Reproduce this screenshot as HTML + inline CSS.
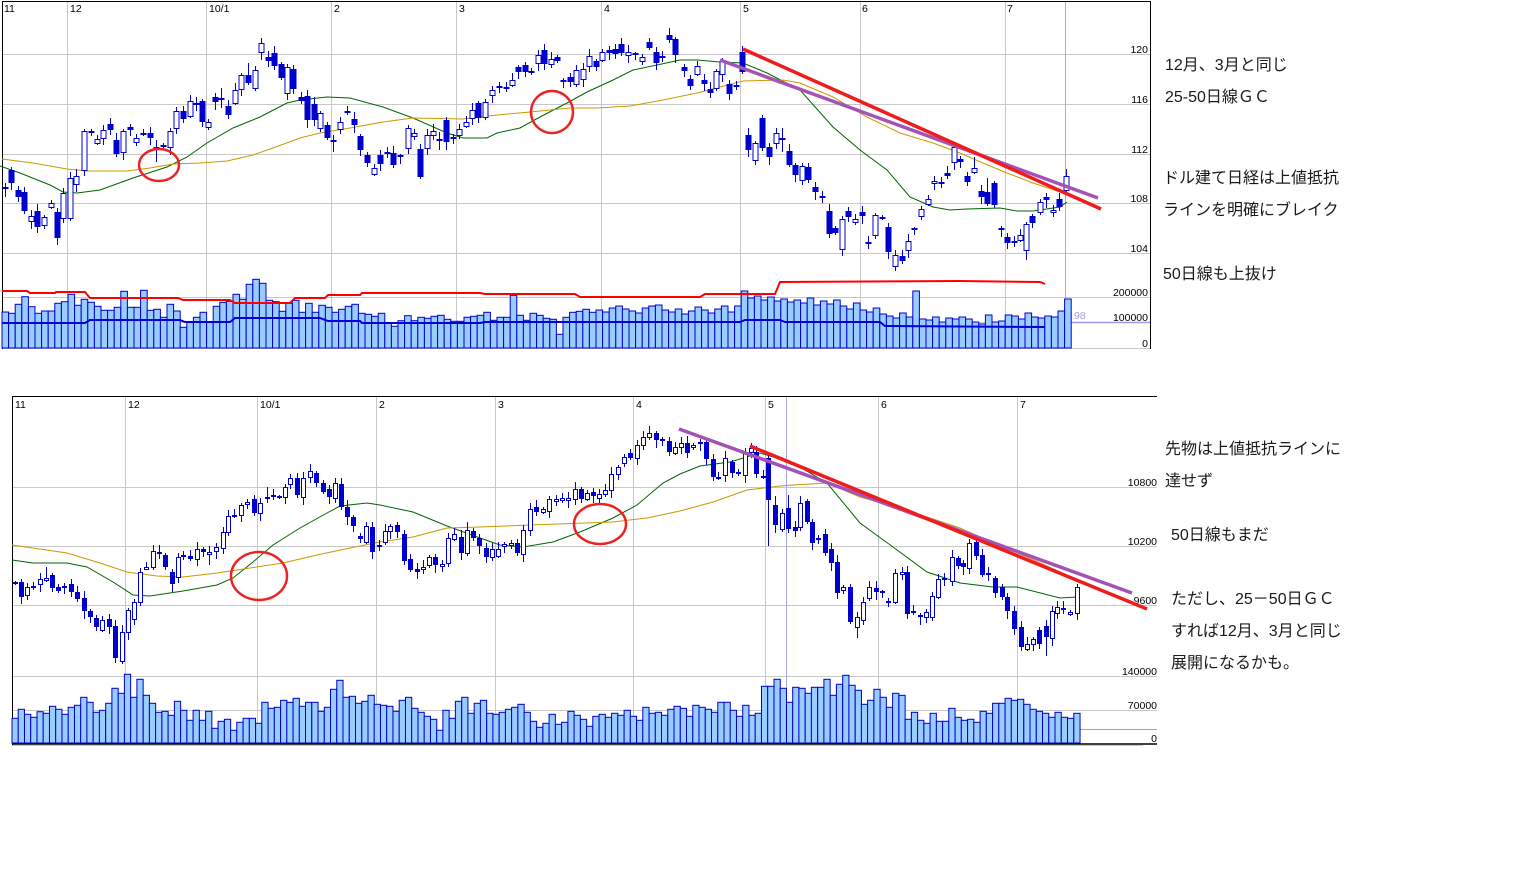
<!DOCTYPE html>
<html><head><meta charset="utf-8">
<style>
html,body{margin:0;padding:0;background:#fff;}
body{width:1514px;height:886px;overflow:hidden;}
svg{display:block;}
.ax{font-family:"Liberation Sans",sans-serif;font-size:10.5px;fill:#000;}
.jp{font-family:"Liberation Sans","Noto Sans CJK JP",sans-serif;font-size:16px;fill:#1a1a1a;}
</style></head>
<body>
<svg id="s" xmlns="http://www.w3.org/2000/svg" width="1514" height="886" viewBox="0 0 1514 886">
<rect x="0" y="0" width="1514" height="886" fill="#fff"/>
<!-- TOP CHART GRID -->
<g stroke="#c8c8c8" stroke-width="1" fill="none">
<line x1="2" y1="54.5" x2="1150" y2="54.5"/>
<line x1="2" y1="104.5" x2="1150" y2="104.5"/>
<line x1="2" y1="154.5" x2="1150" y2="154.5"/>
<line x1="2" y1="203.5" x2="1150" y2="203.5"/>
<line x1="2" y1="253.5" x2="1150" y2="253.5"/>
<line x1="2" y1="297.5" x2="1150" y2="297.5"/>
<line x1="2" y1="322.5" x2="1071" y2="322.5"/>
<line x1="2" y1="348.5" x2="1150" y2="348.5"/>
<line x1="67.5" y1="1" x2="67.5" y2="348"/>
<line x1="206.5" y1="1" x2="206.5" y2="348"/>
<line x1="331.5" y1="1" x2="331.5" y2="348"/>
<line x1="456.5" y1="1" x2="456.5" y2="348"/>
<line x1="601.5" y1="1" x2="601.5" y2="348"/>
<line x1="740.5" y1="1" x2="740.5" y2="348"/>
<line x1="860.5" y1="1" x2="860.5" y2="348"/>
<line x1="1005.5" y1="1" x2="1005.5" y2="348"/>
</g>
<line x1="1065.5" y1="1" x2="1065.5" y2="300" stroke="#a8a8e8" stroke-width="1"/>
<line x1="1071" y1="322.5" x2="1150" y2="322.5" stroke="#9d9de0" stroke-width="1.5"/>
<g stroke="#000" stroke-width="1">
<line x1="2" y1="1.5" x2="1151" y2="1.5"/>
<line x1="2.5" y1="1" x2="2.5" y2="349"/>
<line x1="1150.5" y1="1" x2="1150.5" y2="349"/>
</g>
<!-- top labels -->
<g class="ax">
<text x="4" y="12">11</text>
<text x="70" y="12">12</text>
<text x="209" y="12">10/1</text>
<text x="334" y="12">2</text>
<text x="459" y="12">3</text>
<text x="604" y="12">4</text>
<text x="743" y="12">5</text>
<text x="862" y="12">6</text>
<text x="1007" y="12">7</text>
<g text-anchor="end">
<text x="1148" y="53">120</text>
<text x="1148" y="103">116</text>
<text x="1148" y="153">112</text>
<text x="1148" y="202">108</text>
<text x="1148" y="252">104</text>
<text x="1148" y="296">200000</text>
<text x="1148" y="321">100000</text>
<text x="1148" y="347">0</text>
</g>
</g>
<text x="1074" y="319" class="ax" style="fill:#a0a0e0">98</text>

<!-- BOTTOM CHART GRID -->
<g stroke="#c8c8c8" stroke-width="1" fill="none">
<line x1="12" y1="487.5" x2="1157" y2="487.5"/>
<line x1="12" y1="546.5" x2="1157" y2="546.5"/>
<line x1="12" y1="605.5" x2="1157" y2="605.5"/>
<line x1="12" y1="676.5" x2="1157" y2="676.5"/>
<line x1="12" y1="710.5" x2="1157" y2="710.5"/>
<line x1="125.5" y1="396" x2="125.5" y2="743"/>
<line x1="257.5" y1="396" x2="257.5" y2="743"/>
<line x1="376.5" y1="396" x2="376.5" y2="743"/>
<line x1="495.5" y1="396" x2="495.5" y2="743"/>
<line x1="633.5" y1="396" x2="633.5" y2="743"/>
<line x1="765.5" y1="396" x2="765.5" y2="743"/>
<line x1="878.5" y1="396" x2="878.5" y2="743"/>
<line x1="1017.5" y1="396" x2="1017.5" y2="743"/>
<line x1="12" y1="745.5" x2="1143" y2="745.5"/>
</g>
<line x1="786.5" y1="396" x2="786.5" y2="743" stroke="#a8a8e8" stroke-width="1"/>
<line x1="1080" y1="729.5" x2="1157" y2="729.5" stroke="#9d9de0" stroke-width="1"/>
<g stroke="#000" stroke-width="1">
<line x1="12" y1="396.5" x2="1157" y2="396.5"/>
<line x1="12.5" y1="396" x2="12.5" y2="745"/>
<line x1="12" y1="744" x2="1157" y2="744" stroke-width="1.5"/>
</g>
<g class="ax">
<text x="15" y="408">11</text>
<text x="128" y="408">12</text>
<text x="260" y="408">10/1</text>
<text x="379" y="408">2</text>
<text x="498" y="408">3</text>
<text x="636" y="408">4</text>
<text x="768" y="408">5</text>
<text x="881" y="408">6</text>
<text x="1020" y="408">7</text>
<g text-anchor="end">
<text x="1157" y="486">10800</text>
<text x="1157" y="545">10200</text>
<text x="1157" y="604">9600</text>
<text x="1157" y="675">140000</text>
<text x="1157" y="709">70000</text>
<text x="1157" y="742">0</text>
</g>
</g>

<g id="vol"></g>
<g id="ma" fill="none" stroke-width="1">
<polyline id="tg" stroke="#006600" points="0,166 20,173 50,185 63,192 77,193 100,190 133,178 167,167 187,157 207,143 233,128 260,117 287,103 300,100 327,97 350,98 383,107 413,118 447,133 463,138 487,138 497,133 520,128 540,117 567,103 587,92 613,80 633,70 657,65 680,60 697,60 720,62 743,63 767,73 800,90 833,127 860,150 887,170 910,197 933,207 950,210 967,209 1000,208 1017,211 1033,211 1060,207 1067,202"/>
<polyline stroke="#cc9900" points="2,159 33,163 67,169 87,171 127,171 150,168 173,164 200,163 227,161 253,155 273,148 300,138 320,133 350,128 383,122 413,118 463,119 497,115 530,112 570,108 597,108 630,106 663,100 697,93 720,87 743,81 783,80 800,83 833,97 867,117 900,133 933,143 960,153 983,163 1007,173 1033,183 1060,192 1067,195"/>
<polyline stroke="#006600" points="12,560 33,563 67,563 87,567 113,582 133,595 150,596 183,591 217,585 233,578 253,562 273,545 300,528 327,513 340,506 367,503 380,505 413,512 447,526 480,538 500,545 523,547 553,542 580,532 613,518 637,505 663,483 680,474 700,466 730,462 760,453 793,463 827,483 860,523 893,547 927,572 960,583 993,587 1017,587 1060,598 1077,597"/>
<polyline stroke="#cc9900" points="12,545 33,548 67,553 100,563 127,572 157,576 183,577 217,573 250,568 283,563 317,555 350,548 380,542 413,537 447,528 480,527 530,525 613,522 647,518 680,511 713,502 747,490 780,486 793,485 827,483 860,497 893,506 927,517 960,528 993,543 1027,557 1060,572 1077,582"/>
</g>
<g id="cd"></g>
<!-- trend lines -->
<g fill="none" stroke-linecap="butt">
<line x1="720" y1="60" x2="1098" y2="198" stroke="#a552b5" stroke-width="3.5"/>
<line x1="743" y1="49" x2="1101" y2="209" stroke="#f01c1c" stroke-width="3.5"/>
<line x1="679" y1="429" x2="1132" y2="593" stroke="#a552b5" stroke-width="3.5"/>
<line x1="750" y1="446" x2="1147" y2="609" stroke="#f01c1c" stroke-width="3.5"/>
</g>
<g fill="none" stroke="#ee2222" stroke-width="2.5">
<ellipse cx="159" cy="165" rx="20" ry="16"/>
<ellipse cx="552" cy="112" rx="21" ry="21"/>
<ellipse cx="259" cy="576" rx="28" ry="24"/>
<ellipse cx="600" cy="524" rx="26" ry="20"/>
</g>
<!-- annotations -->
<g class="jp">
<text x="1165" y="70">12月、3月と同じ</text>
<text x="1165" y="102">25-50日線ＧＣ</text>
<text x="1163" y="183">ドル建て日経は上値抵抗</text>
<text x="1163" y="215">ラインを明確にブレイク</text>
<text x="1163" y="279">50日線も上抜け</text>
<text x="1165" y="454">先物は上値抵抗ラインに</text>
<text x="1165" y="486">達せず</text>
<text x="1171" y="540">50日線もまだ</text>
<text x="1171" y="604">ただし、25－50日ＧＣ</text>
<text x="1171" y="636">すれば12月、3月と同じ</text>
<text x="1171" y="668">展開になるかも。</text>
</g>
</svg>
<script>
(function(){
var NS='http://www.w3.org/2000/svg';
function mk(tag,a,p){var e=document.createElementNS(NS,tag);for(var k in a)e.setAttribute(k,a[k]);p.appendChild(e);return e;}
var BL='#0000cc';
var vol=document.getElementById('vol');
// top volume
var tv=[216,220,193,170,200,220,213,213,190,185,163,196,178,187,199,211,211,202,154,202,202,151,211,208,232,193,213,262,246,232,217,246,199,187,184,163,178,133,118,130,181,185,214,190,181,217,190,217,196,202,217,208,199,193,220,223,229,220,250,259,242,227,242,232,235,229,226,238,244,244,232,229,226,217,241,232,232,166,226,241,220,226,235,238,283,232,217,214,208,217];
var ty=tv.map(function(v){return 240+v/3;});
ty=ty.concat([310,312,308,306,309,311,313,308,306,305,310,312,309,314,311,307,310,313,309,306,312,306,
291,298,296,300,297,301,299,302,
300,303,298,305,301,304,300,306,309,303,310,312,308,314,
316,318,313,317,291,319,320,317,322,318,319,
317,319,322,324,315,322,321,315,316,319,313,317,318,316,317,311,299]);
for(var i=0;i<ty.length&&i<162;i++){
 var x=2+i*6.6;
 mk('rect',{x:x.toFixed(1),y:ty[i].toFixed(1),width:6.6,height:(348-ty[i]).toFixed(1),fill:'#99ccff',stroke:BL,'stroke-width':1},vol);
}
// top volume lines
mk('polyline',{points:'2,291 27,291 30,293 55,293 56,292 85,292 90,298 178,298 183,300 230,300 235,303 290,303 295,298 325,298 328,295 360,295 362,293 480,293 485,294 575,294 580,297 700,297 705,294 775,294 780,282 960,281 1040,282 1045,284',fill:'none',stroke:'#ff0000','stroke-width':2},vol);
mk('polyline',{points:'2,323 85,323 90,320 180,320 185,322 230,322 235,318 320,318 328,321 360,321 362,323 480,323 485,322 740,322 745,320 780,320 785,322 880,322 885,326 1045,327',fill:'none',stroke:'#0000dd','stroke-width':2},vol);
// bottom volume
var bv=[175,148,163,172,155,160,139,148,163,142,136,112,127,157,151,130,85,100,43,112,58,106,130,157,154,166,124,151,181,151,181,154,205,184,178,211,187,175,175,190,127,145,142,121,127,115,139,127,127,154,142,88,61,112,109,130,124,106,133,136,139,154,121,112,145,157,169,178,211,151,175,124,112,160,130,121,160,163,157,148,142,133,157,184,202,190,163,193,187,154,166,178,199,169,
163,172,160,166,151,169,181,142,160,157,166,148,139,145,169,136,142,148,157,127,127,151,169,136,166,160,79,79,58,85,127,82,85,100,82,82,58,106,73,46,76,91,133,121,88,112,142,100,106,178,157,181,190,160,184,184,145,172,181,178,187,154,160,130,130,115,121,118,133,148,154,160,172,157,172,175,160];
var bw=(1080-12)/171;
for(var j=0;j<171&&j<bv.length;j++){
 var y=660+bv[j]/3,x2=12+j*bw;
 mk('rect',{x:x2.toFixed(1),y:y.toFixed(1),width:bw.toFixed(2),height:(743-y).toFixed(1),fill:'#99ccff',stroke:BL,'stroke-width':1},vol);
}
// candles
var cd=document.getElementById('cd');
function draw(data,w){
 data.forEach(function(c,i){
  var x=c[0],t=c[1],b=c[2],k=c[3];
  var hi=c.length>4?c[4]:t-(2+(i*7)%6);
  var lo=c.length>5?c[5]:b+(2+(i*5)%7);
  mk('line',{x1:x+0.5,y1:hi,x2:x+0.5,y2:lo,stroke:BL,'stroke-width':1},cd);
  if(k===0){mk('rect',{x:x-w/2+0.5,y:t,width:w,height:Math.max(b-t,2),fill:BL},cd);}
  else if(k===1){mk('rect',{x:x-w/2+1,y:t+0.5,width:w-1,height:Math.max(b-t,2),fill:'#fff',stroke:BL,'stroke-width':1},cd);}
  else {mk('rect',{x:x-w/2+0.5,y:t-1,width:w,height:2,fill:BL},cd);}
 });
}
var top=[[5,188,188,2,183,197],[11,170,183,0],[18,190,197,0],[24,192,211,0],[31,216,221,1],[37,211,227,0],[44,217,225,1],[51,203,207,1],[57,212,238,0],[63,193,218,1],[70,178,218,1],[76,176,184,1],[84,131,170,1],[91,132,132,2],[97,139,143,1],[103,130,138,1],[110,124,130,0],[116,140,154,0],[123,131,152,1],[130,127,130,0],[136,138,142,1],[143,134,134,2],[150,133,138,0],[156,147,148,1,140,162],[163,145,147,0],[170,131,147,1],[176,111,128,1],[183,111,119,0],[190,101,116,1],[196,104,104,2],[202,101,122,0],[208,122,127,1],[215,97,102,0],[221,99,99,2,88,108],[228,106,115,0],[235,90,103,1],[241,75,89,1],[248,75,83,0,63,85],[255,70,88,1],[261,43,52,1],[268,57,61,0],[274,53,66,0],[281,64,78,0],[287,67,93,1],[293,69,89,0],[301,97,101,0],[307,96,120,0],[314,104,120,0],[320,113,128,1],[327,125,138,0],[333,141,141,2,135,152],[340,122,129,1],[347,112,112,2],[354,119,125,0],[360,136,150,0],[367,155,163,0],[374,168,174,1],[380,155,164,0],[387,153,153,2],[393,153,165,0],[400,156,156,2],[408,128,148,1],[414,133,136,1],[420,149,177,0],[427,135,148,1],[433,131,135,1],[439,140,140,2,132,150],[446,120,142,0],[453,138,138,2],[459,129,135,1],[466,122,126,1],[472,110,118,1],[478,103,118,0],[485,102,117,1],[492,90,95,1],[499,87,87,2],[506,88,88,2],[512,80,85,1],[518,67,72,0],[525,65,72,0],[531,72,72,2],[538,55,63,1],[544,50,64,0],[551,59,64,1],[557,57,61,0],[563,81,81,2],[570,77,82,0],[576,70,84,1],[583,69,79,1],[589,56,66,1],[596,61,67,0],[602,52,60,1],[609,50,53,0],[615,49,54,0],[621,44,53,0],[628,52,55,1],[635,54,54,2],[642,57,61,1],[649,42,48,0],[656,52,63,0],[662,57,57,2],[669,35,40,0],[675,39,55,0],[684,67,71,0],[690,79,86,0],[697,66,74,1],[704,80,84,0],[710,89,93,0],[716,71,88,1],[722,61,74,1],[729,84,94,0],[736,86,86,2],[742,52,72,0],[748,135,150,0],[755,143,160,1],[762,118,148,0],[769,147,157,0],[776,133,143,1],[782,139,139,2,128,152],[789,151,165,0],[795,165,175,0],[802,166,180,1],[808,167,180,0],[815,187,192,0],[822,197,197,2],[829,211,234,0],[835,228,233,0],[842,219,249,1],[848,211,217,0],[855,219,222,1],[862,212,216,0],[868,243,243,2,236,249],[875,215,235,1],[882,218,218,2],[888,227,252,0],[895,255,266,1],[902,256,261,0],[908,241,250,1],[914,229,229,2],[921,209,216,1],[928,199,204,1],[934,181,183,1],[941,183,183,2],[947,173,176,0],[954,147,162,1],[960,159,162,0],[967,176,182,0],[974,168,172,1,157,174],[981,191,197,0],[987,192,204,0,178,206],[994,183,205,0],[1001,229,229,2],[1007,237,243,0],[1014,241,243,0],[1020,235,240,1],[1026,224,250,1,222,260],[1032,216,223,0],[1040,202,212,1],[1046,197,200,0],[1053,210,211,1],[1059,199,207,0],[1066,176,190,1]];
draw(top,6);
var bot=[[15,583,583,2],[21,582,597,0],[27,587,595,1],[33,587,587,2],[40,579,584,1],[46,578,579,1,567,582],[52,575,588,0],[58,587,591,0],[64,587,587,2],[71,584,592,0],[77,592,599,0],[84,598,611,0],[90,611,617,0],[96,618,627,0],[102,620,630,1],[109,619,627,0],[115,626,658,0],[122,632,661,1],[128,610,632,1],[134,602,619,1],[140,572,602,1],[146,567,568,1],[153,551,567,1,545,570],[159,552,554,0],[165,555,567,0],[172,572,584,0],[178,557,577,1],[183,556,556,2],[190,556,559,0],[197,549,559,1],[203,549,552,0],[209,552,554,1,546,565],[216,547,551,1],[223,532,548,1],[228,516,532,1],[234,516,516,2],[241,505,515,1],[247,502,504,1],[254,499,513,0],[260,503,513,1],[267,498,498,2,487,503],[273,496,496,2],[279,497,497,2],[285,487,497,1],[290,478,484,1],[297,478,495,0],[303,478,497,1],[310,471,477,1],[316,473,483,0],[323,483,492,0],[329,489,497,0],[335,483,498,1],[341,484,507,0],[347,507,517,0],[353,517,526,0],[360,536,539,0],[366,526,542,1],[372,527,552,0],[379,546,546,2],[385,531,542,1],[390,526,531,1],[397,525,532,0],[404,534,561,0],[410,559,570,0],[417,569,572,0],[423,567,569,1],[429,557,565,1],[435,557,565,0],[442,564,566,1],[448,538,563,1],[454,534,539,1],[461,537,553,0],[467,530,553,1,522,556],[473,531,538,0],[479,538,546,0],[486,548,557,0],[492,549,557,1],[498,549,556,1],[504,544,546,1],[511,543,544,1],[517,543,553,0],[523,530,554,1],[530,509,530,1],[536,507,512,0],[543,509,512,1],[549,499,511,1],[556,499,501,1],[562,498,500,1],[568,498,500,1],[575,489,499,1],[581,489,499,0],[587,493,499,1],[593,492,496,0],[599,494,498,1],[605,490,494,1],[611,474,490,1],[618,467,474,1],[624,457,463,1],[630,453,458,0],[637,445,458,1],[643,437,445,1],[649,433,437,1],[656,433,440,0],[662,440,440,2],[669,441,452,0],[675,447,453,1],[681,443,447,1],[687,443,453,0],[693,445,447,1],[700,442,443,0],[706,442,459,0],[713,459,477,0],[718,478,478,2],[725,458,475,1],[732,462,473,0],[738,472,473,0],[745,452,475,1],[751,448,452,1],[756,452,474,0],[763,477,477,2],[768,458,500,0,452,546],[775,505,525,0,496,533],[782,513,529,1],[788,508,529,0,495,533],[795,527,531,0],[800,503,527,1],[807,501,522,0],[812,522,543,0],[818,539,539,2],[825,534,553,0],[831,549,563,0],[837,562,593,0],[843,587,590,1],[850,587,622,0],[857,617,627,1,612,638],[863,602,620,1],[869,587,598,1],[876,588,592,0],[882,592,592,2],[888,601,603,0],[895,573,602,1],[902,572,573,1],[907,572,614,0],[913,612,612,2],[920,615,617,0],[926,612,617,1],[932,596,617,1],[938,579,597,1],[944,579,579,2],[952,557,581,1],[958,558,566,0],[963,563,567,0],[969,543,568,1],[976,542,556,0],[982,555,575,0],[988,574,574,2],[995,578,593,0],[1002,587,597,0],[1007,597,611,0],[1014,611,629,0],[1021,627,647,0],[1027,644,649,1],[1033,639,644,1],[1039,630,644,0],[1046,626,637,0,620,656],[1052,611,638,1],[1057,607,613,1],[1063,608,610,0],[1070,612,614,1],[1077,587,613,1]];
draw(bot,5);
})();
</script>
</body></html>
